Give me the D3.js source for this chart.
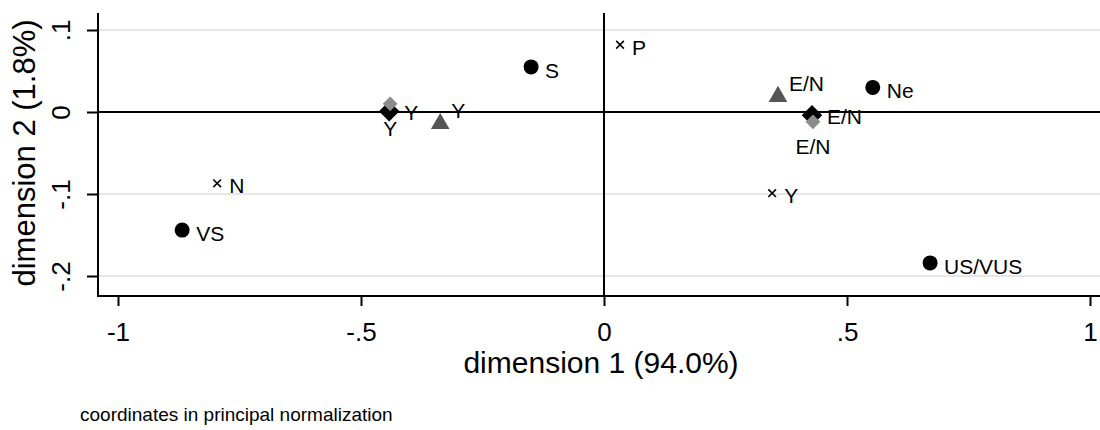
<!DOCTYPE html>
<html>
<head>
<meta charset="utf-8">
<script src="https://cdn.jsdelivr.net/npm/d3@7"></script>
<style>
  body { margin: 0; background: #fff; }
  text { font-family: "Liberation Sans", Arial, sans-serif; fill: #000; }
</style>
</head>
<body>
<div id="chart"></div>
<script>
// row points (circles)
const rowLabels = ["S", "Ne", "VS", "US/VUS"];
const rowX = [-0.150, 0.553, -0.868, 0.671];
const rowY = [0.055, 0.030, -0.144, -0.184];

// column points (x)
const colLabels = ["P", "N", "Y"];
const colX = [0.033, -0.796, 0.346];
const colY = [0.082, -0.087, -0.099];

// supplementary (triangles)
const triLabels = ["Y", "E/N"];
const triX = [-0.337, 0.358];
const triY = [-0.013, 0.020];

// black diamonds
const dmdLabels = ["Y", "E/N"];
const dmdX = [-0.442, 0.428];
const dmdY = [0.001, -0.004];

// gray diamonds
const gryLabels = ["Y", "E/N"];
const gryX = [-0.440, 0.430];
const gryY = [0.010, -0.012];

const xTicks = [-1, -0.5, 0, 0.5, 1];
const xTickLabels = ["-1", "-.5", "0", ".5", "1"];
const yTicks = [-0.2, -0.1, 0, 0.1];
const yTickLabels = ["-.2", "-.1", "0", ".1"];

const W = 1100, H = 430;
const pLeft = 98, pRight = 1100, pTop = 13, pBottom = 296;

const svg = d3.select("#chart").append("svg")
  .attr("width", W).attr("height", H);

const x = d3.scaleLinear().domain([-1, 1]).range([118, 1090]);
const y = d3.scaleLinear().domain([-0.2, 0.1]).range([276, 30]);

// grid lines
svg.append("g").selectAll("line")
  .data(yTicks.filter(d => d !== 0))
  .enter().append("line")
  .attr("x1", pLeft).attr("x2", pRight)
  .attr("y1", d => y(d)).attr("y2", d => y(d))
  .attr("stroke", "#e6e6e6").attr("stroke-width", 2);

// reference lines at 0
svg.append("line")
  .attr("x1", pLeft).attr("x2", pRight)
  .attr("y1", y(0)).attr("y2", y(0))
  .attr("stroke", "#000").attr("stroke-width", 2);
svg.append("line")
  .attr("x1", x(0)).attr("x2", x(0))
  .attr("y1", pTop).attr("y2", pBottom)
  .attr("stroke", "#000").attr("stroke-width", 2);

// axes
const xAxis = d3.axisBottom(x).tickValues(xTicks)
  .tickFormat((d, i) => xTickLabels[i]).tickSize(10).tickPadding(17);
const gx = svg.append("g").attr("transform", `translate(0,${pBottom})`).call(xAxis);
gx.select(".domain").remove();
gx.selectAll(".tick line").attr("stroke", "#000").attr("stroke-width", 2);
gx.selectAll(".tick text").attr("font-size", 26).attr("font-family", "Liberation Sans, Arial, sans-serif");

const yAxis = d3.axisLeft(y).tickValues(yTicks)
  .tickFormat((d, i) => yTickLabels[i]).tickSize(11);
const gy = svg.append("g").attr("transform", `translate(${pLeft},0)`).call(yAxis);
gy.select(".domain").remove();
gy.selectAll(".tick line").attr("stroke", "#000").attr("stroke-width", 2);
gy.selectAll(".tick text")
  .attr("font-size", 26).attr("font-family", "Liberation Sans, Arial, sans-serif")
  .attr("x", null).attr("dy", null)
  .attr("text-anchor", "middle")
  .attr("transform", "translate(-28,0) rotate(-90)");

// axis frame lines
svg.append("line").attr("x1", pLeft).attr("x2", pLeft).attr("y1", pTop).attr("y2", pBottom)
  .attr("stroke", "#000").attr("stroke-width", 2);
svg.append("line").attr("x1", pLeft - 1).attr("x2", pRight).attr("y1", pBottom).attr("y2", pBottom)
  .attr("stroke", "#000").attr("stroke-width", 2);

// titles
svg.append("text").attr("x", 601).attr("y", 373)
  .attr("text-anchor", "middle").attr("font-size", 30)
  .text("dimension 1 (94.0%)");
svg.append("text").attr("transform", "translate(35,153) rotate(-90)")
  .attr("text-anchor", "middle").attr("font-size", 31)
  .text("dimension 2 (1.8%)");
svg.append("text").attr("x", 80).attr("y", 421).attr("font-size", 19)
  .text("coordinates in principal normalization");

function pts(labels, xs, ys) {
  return labels.map((l, i) => ({ label: l, x: xs[i], y: ys[i] }));
}

const g = svg.append("g");
const fs = 21;

// triangles
const tri = pts(triLabels, triX, triY);
g.selectAll(".tri").data(tri).enter().append("path")
  .attr("d", d3.symbol().type(d3.symbolTriangle).size(150))
  .attr("transform", d => `translate(${x(d.x)},${y(d.y) + 1})`)
  .attr("fill", "#555");
g.selectAll(".tril").data(tri).enter().append("text")
  .attr("x", d => x(d.x) + 11).attr("y", d => y(d.y) - 5)
  .attr("font-size", fs).text(d => d.label);

// black diamonds
const dmd = pts(dmdLabels, dmdX, dmdY);
g.selectAll(".dmd").data(dmd).enter().append("path")
  .attr("d", d3.symbol().type(d3.symbolSquare).size(210))
  .attr("transform", d => `translate(${x(d.x)},${y(d.y)}) rotate(45)`)
  .attr("fill", "#000");
g.selectAll(".dmdl").data(dmd).enter().append("text")
  .attr("x", d => x(d.x) + 15).attr("y", d => y(d.y) + 9)
  .attr("font-size", fs).text(d => d.label);

// gray diamonds
const gry = pts(gryLabels, gryX, gryY);
g.selectAll(".gry").data(gry).enter().append("path")
  .attr("d", d3.symbol().type(d3.symbolSquare).size(110))
  .attr("transform", d => `translate(${x(d.x)},${y(d.y)}) rotate(45)`)
  .attr("fill", "#8c8c8c");
g.selectAll(".gryl").data(gry).enter().append("text")
  .attr("x", d => x(d.x)).attr("y", d => y(d.y) + 32)
  .attr("text-anchor", "middle")
  .attr("font-size", fs).text(d => d.label);

// circles
const row = pts(rowLabels, rowX, rowY);
g.selectAll(".row").data(row).enter().append("circle")
  .attr("cx", d => x(d.x)).attr("cy", d => y(d.y)).attr("r", 7.5)
  .attr("fill", "#000");
g.selectAll(".rowl").data(row).enter().append("text")
  .attr("x", d => x(d.x) + 14).attr("y", d => y(d.y) + 11)
  .attr("font-size", fs).text(d => d.label);

// x markers
const col = pts(colLabels, colX, colY);
const cross = d3.symbol().type(d3.symbolTimes).size(40);
g.selectAll(".col").data(col).enter().append("path")
  .attr("d", cross)
  .attr("transform", d => `translate(${x(d.x)},${y(d.y)})`)
  .attr("fill", "none").attr("stroke", "#000").attr("stroke-width", 1.6);
g.selectAll(".coll").data(col).enter().append("text")
  .attr("x", d => x(d.x) + 12).attr("y", d => y(d.y) + 10)
  .attr("font-size", fs).text(d => d.label);
</script>
</body>
</html>
